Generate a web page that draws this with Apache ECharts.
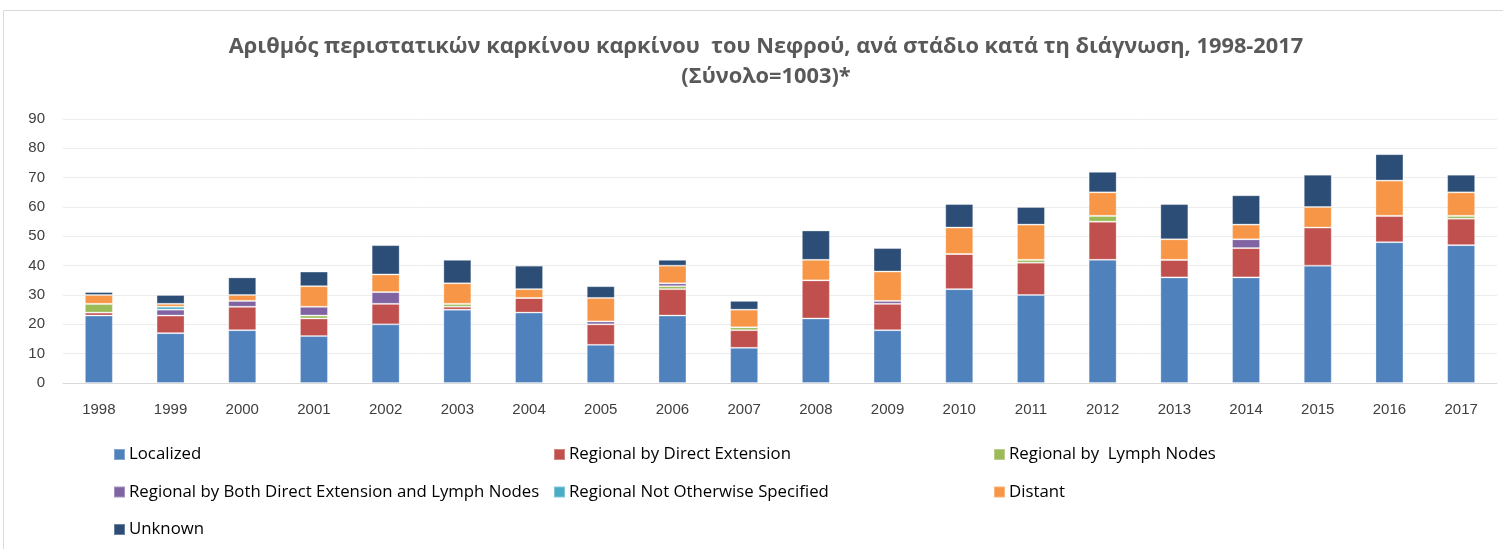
<!DOCTYPE html>
<html>
<head>
<meta charset="utf-8">
<script src="https://cdn.jsdelivr.net/npm/echarts@6/dist/echarts.min.js"></script>
<style>
  html, body { margin: 0; padding: 0; background: #fff; }
  #chart { width: 1503px; height: 549px; }
</style>
</head>
<body>
<div id="chart"></div>
<script>
const years = ['1998', '1999', '2000', '2001', '2002', '2003', '2004', '2005', '2006', '2007',
  '2008', '2009', '2010', '2011', '2012', '2013', '2014', '2015', '2016', '2017'];

const localized = [23, 17, 18, 16, 20, 25, 24, 13, 23, 12, 22, 18, 32, 30, 42, 36, 36, 40, 48, 47];
const directExt = [1, 6, 8, 6, 7, 1, 5, 7, 9, 6, 13, 9, 12, 11, 13, 6, 10, 13, 9, 9];
const lymphNodes = [3, 0, 0, 1, 0, 1, 0, 0, 1, 1, 0, 0, 0, 1, 2, 0, 0, 0, 0, 1];
const bothExtLymph = [0, 2, 2, 3, 4, 0, 0, 1, 1, 0, 0, 1, 0, 0, 0, 0, 3, 0, 0, 0];
const regionalNos = [0, 1, 0, 0, 0, 0, 0, 0, 0, 0, 0, 0, 0, 0, 0, 0, 0, 0, 0, 0];
const distant = [3, 1, 2, 7, 6, 7, 3, 8, 6, 6, 7, 10, 9, 12, 8, 7, 5, 7, 12, 8];
const unknown = [1, 3, 6, 5, 10, 8, 8, 4, 2, 3, 10, 8, 8, 6, 7, 12, 10, 11, 9, 6];

const seriesNames = [
  'Localized',
  'Regional by Direct Extension',
  'Regional by  Lymph Nodes',
  'Regional by Both Direct Extension and Lymph Nodes',
  'Regional Not Otherwise Specified',
  'Distant',
  'Unknown'
];
const seriesData = [localized, directExt, lymphNodes, bothExtLymph, regionalNos, distant, unknown];
const colors = ['#4F81BD', '#C0504D', '#9BBB59', '#8064A2', '#4BACC6', '#F79646', '#2C4D75'];

const font = 'Liberation Sans, Arial, sans-serif';
const font2 = 'Open Sans, Liberation Sans, sans-serif';

const chart = echarts.init(document.getElementById('chart'));

// legend in 3 columns, like the excel one
const legendBase = {
  orient: 'vertical',
  top: 441,
  itemGap: 20.5,
  itemWidth: 11,
  itemHeight: 11,
  icon: 'rect',
  textStyle: { fontFamily: font2, fontSize: 16.8, color: '#000', padding: [0, 0, 0, -1] },
  selectedMode: false
};

const option = {
  animation: false,
  color: colors,
  title: {
    text: 'Αριθμός περιστατικών καρκίνου καρκίνου  του Νεφρού, ανά στάδιο κατά τη διάγνωση, 1998-2017\n(Σύνολο=1003)*',
    left: 761,
    textAlign: 'center',
    top: 27,
    textStyle: {
      fontFamily: font2,
      fontSize: 21.8,
      fontWeight: 'bold',
      color: '#595959',
      lineHeight: 30
    }
  },
  legend: [
    Object.assign({}, legendBase, { left: 108, data: [seriesNames[0], seriesNames[3], seriesNames[6]] }),
    Object.assign({}, legendBase, { left: 548, data: [seriesNames[1], seriesNames[4]] }),
    Object.assign({}, legendBase, { left: 988, data: [seriesNames[2], seriesNames[5]] })
  ],
  grid: { left: 63, right: 6, top: 119, bottom: 166 },
  xAxis: {
    type: 'category',
    data: years,
    axisTick: { show: false },
    axisLine: { lineStyle: { color: '#d9d9d9', width: 1 } },
    axisLabel: { fontFamily: font, fontSize: 15, color: '#404040', margin: 19 }
  },
  yAxis: {
    type: 'value',
    min: 0,
    max: 90,
    interval: 10,
    axisLine: { show: false },
    axisTick: { show: false },
    splitLine: { lineStyle: { color: '#ececec', width: 1 } },
    axisLabel: { fontFamily: font, fontSize: 15, color: '#404040', margin: 18 }
  },
  graphic: [{
    type: 'rect',
    shape: { x: 3.5, y: 10.5, width: 1510, height: 560 },
    style: { fill: 'none', stroke: '#d9d9d9', lineWidth: 1 },
    silent: true
  }],
  series: seriesNames.map((name, i) => ({
    name: name,
    type: 'bar',
    stack: 'total',
    barWidth: 28,
    data: seriesData[i],
    itemStyle: {
      color: colors[i],
      borderColor: 'rgba(255,255,255,0.3)',
      borderWidth: 1
    }
  }))
};

chart.setOption(option);
</script>
</body>
</html>
